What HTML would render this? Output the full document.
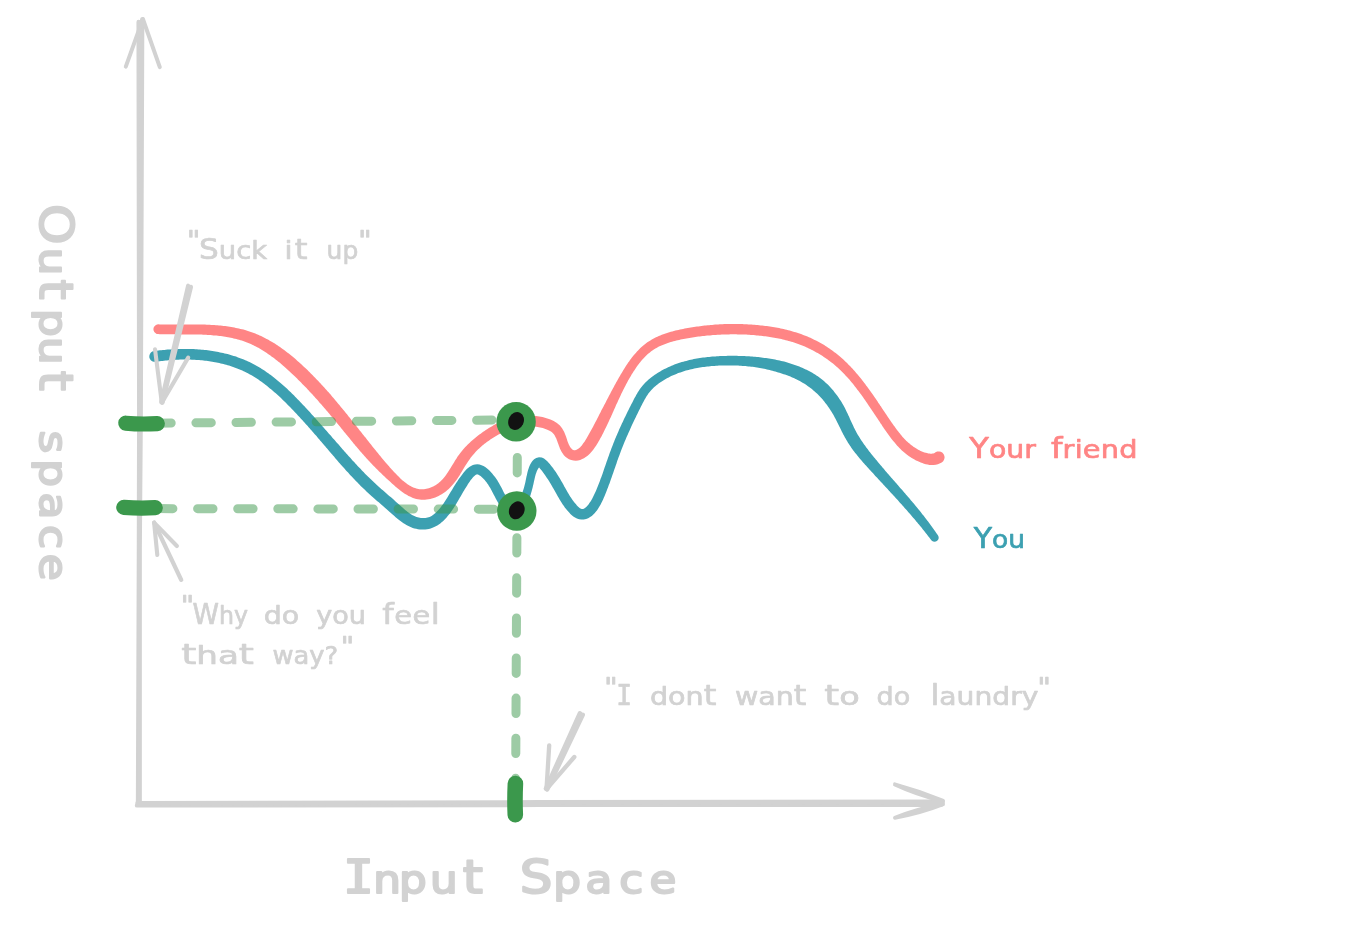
<!DOCTYPE html>
<html lang="en"><head><meta charset="utf-8"><title>Input Space / Output space</title>
<style>html,body{margin:0;padding:0;background:#fff;overflow:hidden}svg{display:block}</style></head>
<body>
<svg width="1364" height="933" viewBox="0 0 1364 933">
<rect width="1364" height="933" fill="#fff"/>
<g stroke="#d2d2d2" fill="none" stroke-linecap="round" stroke-linejoin="round">
<path d="M138.6 22 L139.2 420 L138.9 550 L138 803" stroke-width="4.3"/>
<path d="M142.2 19.5 L140.7 420 L139.7 550 L139.7 803" stroke-width="4.3"/>
<path d="M142.9 19 L125.8 66.6 M142.9 19 L159.8 67.2" stroke-width="4"/>
<path d="M137 805.4 L540 804.9 L941 804.8" stroke-width="4.4"/>
<path d="M137.5 803.2 L540 802.3 L942.5 801.8" stroke-width="4.4"/>
<path d="M894.8 784.1 Q919 790.6 943.2 800.7 M894.8 784.7 Q916 794.6 943.2 801.6 M894.8 818 Q921 813.2 943.2 804.4 M894.8 817.5 Q917 808.6 943.2 803.6" stroke-width="3.5"/>
</g>
<path d="M155.4 361.8 L156.9 361.6 L158.3 361.4 L159.7 361.2 L161.1 361.0 L162.6 360.9 L164.0 360.7 L165.5 360.6 L166.9 360.4 L168.4 360.3 L169.8 360.2 L171.3 360.1 L172.7 360.0 L174.2 359.9 L175.6 359.8 L177.1 359.7 L178.6 359.7 L180.0 359.6 L181.5 359.6 L183.0 359.6 L184.5 359.5 L185.9 359.5 L187.4 359.6 L188.9 359.6 L190.3 359.6 L191.8 359.7 L193.3 359.7 L194.7 359.8 L196.2 359.9 L197.7 360.0 L199.1 360.1 L200.6 360.2 L202.0 360.3 L203.5 360.5 L205.0 360.7 L206.4 360.8 L207.9 361.0 L209.3 361.2 L210.7 361.4 L212.2 361.7 L213.6 361.9 L215.0 362.2 L216.5 362.5 L217.9 362.8 L219.3 363.1 L220.7 363.4 L222.1 363.7 L223.5 364.1 L224.9 364.4 L226.3 364.8 L227.6 365.2 L229.0 365.6 L230.4 366.0 L231.7 366.5 L233.1 366.9 L234.4 367.4 L235.8 367.9 L237.1 368.4 L238.4 368.9 L239.7 369.5 L241.0 370.0 L242.3 370.6 L243.6 371.2 L244.9 371.8 L246.2 372.4 L247.4 373.1 L248.7 373.7 L249.9 374.4 L251.1 375.1 L252.4 375.8 L253.6 376.5 L254.8 377.3 L256.0 378.0 L257.2 378.8 L258.4 379.6 L259.6 380.4 L260.7 381.3 L261.9 382.1 L263.1 383.0 L264.2 383.8 L265.4 384.7 L266.5 385.6 L267.7 386.5 L268.8 387.4 L269.9 388.4 L271.1 389.3 L272.2 390.2 L273.3 391.2 L274.4 392.2 L275.5 393.1 L276.6 394.1 L277.7 395.1 L278.8 396.1 L279.9 397.1 L281.0 398.1 L282.1 399.2 L283.1 400.2 L284.2 401.2 L285.3 402.3 L286.3 403.3 L287.4 404.4 L288.4 405.5 L289.5 406.5 L290.5 407.6 L291.6 408.7 L292.6 409.7 L293.6 410.8 L294.7 411.9 L295.7 413.0 L296.7 414.1 L297.7 415.2 L298.7 416.2 L299.7 417.3 L300.7 418.4 L301.7 419.5 L302.7 420.6 L303.7 421.7 L304.7 422.8 L305.7 423.9 L306.7 425.0 L307.7 426.1 L308.6 427.2 L309.6 428.3 L310.6 429.4 L311.6 430.6 L312.6 431.7 L313.5 432.8 L314.5 433.9 L315.5 435.0 L316.5 436.1 L317.4 437.3 L318.4 438.4 L319.4 439.5 L320.3 440.7 L321.3 441.8 L322.3 442.9 L323.2 444.1 L324.2 445.2 L325.2 446.3 L326.1 447.5 L327.1 448.6 L328.1 449.7 L329.1 450.9 L330.0 452.0 L331.0 453.2 L332.0 454.3 L333.0 455.5 L334.0 456.6 L334.9 457.8 L335.9 458.9 L336.9 460.1 L337.9 461.2 L338.9 462.4 L339.9 463.5 L340.9 464.7 L341.9 465.8 L343.0 466.9 L344.0 468.1 L345.0 469.2 L346.0 470.4 L347.0 471.5 L348.1 472.6 L349.1 473.8 L350.1 474.9 L351.2 476.0 L352.2 477.1 L353.3 478.2 L354.3 479.3 L355.4 480.4 L356.4 481.5 L357.5 482.6 L358.6 483.7 L359.6 484.8 L360.7 485.9 L361.8 487.0 L362.9 488.0 L364.0 489.1 L365.1 490.1 L366.2 491.2 L367.3 492.2 L368.4 493.2 L369.5 494.2 L370.6 495.2 L371.7 496.2 L372.9 497.2 L374.0 498.2 L375.1 499.2 L376.2 500.2 L377.3 501.2 L378.5 502.1 L379.6 503.1 L380.7 504.1 L381.8 505.1 L383.0 506.0 L384.1 507.0 L385.2 508.0 L386.4 509.0 L387.5 510.0 L388.6 511.0 L389.7 512.0 L390.9 513.0 L392.0 514.0 L393.2 515.1 L394.4 516.1 L395.6 517.2 L396.9 518.2 L398.1 519.3 L399.4 520.3 L400.8 521.3 L402.1 522.3 L403.5 523.2 L404.9 524.1 L406.4 525.0 L407.9 525.8 L409.5 526.6 L411.1 527.2 L412.7 527.9 L414.4 528.4 L416.2 528.8 L417.9 529.2 L419.8 529.4 L421.6 529.5 L423.4 529.5 L425.3 529.5 L427.1 529.2 L428.9 528.9 L430.7 528.4 L432.5 527.8 L434.2 527.1 L435.8 526.3 L437.3 525.4 L438.8 524.5 L440.3 523.4 L441.6 522.3 L443.0 521.2 L444.2 519.9 L445.4 518.7 L446.6 517.4 L447.7 516.1 L448.8 514.8 L449.9 513.4 L450.9 512.1 L451.8 510.7 L452.8 509.3 L453.7 507.9 L454.6 506.6 L455.4 505.2 L456.2 503.9 L457.0 502.6 L457.8 501.3 L458.5 500.0 L459.2 498.8 L459.9 497.6 L460.6 496.4 L461.3 495.2 L462.0 494.0 L462.7 492.8 L463.4 491.6 L464.1 490.4 L464.9 489.1 L465.6 487.9 L466.4 486.7 L467.2 485.4 L468.0 484.1 L468.9 482.7 L469.8 481.4 L470.7 480.1 L471.7 478.9 L472.6 477.8 L473.5 476.8 L474.4 475.9 L475.2 475.3 L475.9 474.8 L476.4 474.5 L476.8 474.4 L477.1 474.3 L477.5 474.4 L478.0 474.6 L478.8 474.9 L479.7 475.4 L480.6 476.1 L481.6 477.0 L482.7 478.0 L483.7 479.0 L484.7 480.1 L485.6 481.2 L486.5 482.3 L487.3 483.4 L488.1 484.6 L488.8 485.7 L489.6 486.9 L490.3 488.0 L490.9 489.2 L491.6 490.4 L492.2 491.7 L492.9 492.9 L493.5 494.2 L494.2 495.5 L494.9 496.8 L495.6 498.2 L496.3 499.6 L497.1 501.0 L498.0 502.4 L498.9 503.9 L499.8 505.4 L500.9 506.9 L502.1 508.4 L503.4 509.8 L504.8 511.2 L506.3 512.5 L508.1 513.6 L509.9 514.5 L512.0 515.2 L514.3 515.6 L516.8 515.4 L519.2 514.6 L521.1 513.3 L522.7 511.8 L523.9 510.2 L524.9 508.5 L525.8 506.9 L526.6 505.3 L527.3 503.7 L527.9 502.1 L528.6 500.6 L529.1 499.1 L529.7 497.6 L530.2 496.1 L530.7 494.6 L531.1 493.1 L531.5 491.7 L531.9 490.2 L532.3 488.7 L532.7 487.2 L533.0 485.8 L533.4 484.3 L533.7 482.8 L534.0 481.3 L534.4 479.8 L534.7 478.3 L535.0 476.9 L535.4 475.4 L535.8 474.0 L536.3 472.7 L536.8 471.3 L537.4 470.1 L538.1 468.8 L538.8 467.8 L539.4 467.1 L539.8 466.8 L539.8 466.9 L539.3 467.1 L538.8 467.1 L538.8 467.2 L539.2 467.6 L539.9 468.4 L540.8 469.4 L541.7 470.6 L542.6 471.8 L543.5 473.0 L544.4 474.3 L545.3 475.5 L546.1 476.7 L546.9 477.9 L547.7 479.1 L548.5 480.3 L549.3 481.6 L550.0 482.8 L550.8 484.0 L551.5 485.3 L552.2 486.5 L552.9 487.7 L553.7 489.0 L554.4 490.3 L555.1 491.5 L555.8 492.8 L556.5 494.1 L557.3 495.4 L558.0 496.7 L558.8 498.1 L559.6 499.4 L560.4 500.7 L561.2 502.1 L562.1 503.4 L562.9 504.7 L563.9 506.1 L564.8 507.4 L565.9 508.7 L566.9 510.0 L568.0 511.3 L569.2 512.6 L570.4 513.9 L571.8 515.2 L573.3 516.4 L575.0 517.6 L576.9 518.5 L579.1 519.3 L581.4 519.6 L583.8 519.5 L586.1 519.0 L588.2 518.2 L590.1 517.1 L591.8 515.9 L593.3 514.6 L594.6 513.2 L595.8 511.8 L596.9 510.4 L597.9 509.0 L598.8 507.6 L599.7 506.1 L600.5 504.7 L601.2 503.3 L602.0 501.8 L602.6 500.4 L603.3 499.0 L603.9 497.6 L604.5 496.2 L605.1 494.8 L605.7 493.3 L606.2 491.9 L606.8 490.5 L607.3 489.1 L607.9 487.7 L608.4 486.2 L608.9 484.8 L609.5 483.4 L610.0 482.0 L610.5 480.5 L611.0 479.1 L611.5 477.7 L612.0 476.2 L612.5 474.8 L613.0 473.4 L613.5 472.0 L614.0 470.5 L614.5 469.1 L615.0 467.7 L615.5 466.3 L616.0 464.8 L616.5 463.4 L616.9 462.0 L617.4 460.6 L617.9 459.2 L618.4 457.8 L618.9 456.4 L619.5 455.0 L620.0 453.6 L620.5 452.2 L621.0 450.8 L621.5 449.4 L622.1 448.1 L622.6 446.7 L623.2 445.3 L623.7 444.0 L624.3 442.6 L624.8 441.2 L625.4 439.9 L626.0 438.5 L626.6 437.1 L627.2 435.8 L627.8 434.4 L628.4 433.1 L629.0 431.7 L629.6 430.4 L630.2 429.0 L630.8 427.7 L631.4 426.3 L632.0 425.0 L632.7 423.6 L633.3 422.3 L633.9 421.0 L634.6 419.6 L635.2 418.3 L635.9 416.9 L636.5 415.6 L637.2 414.3 L637.8 412.9 L638.5 411.6 L639.1 410.2 L639.8 408.9 L640.5 407.5 L641.1 406.2 L641.8 404.9 L642.5 403.6 L643.2 402.3 L643.9 401.0 L644.5 399.7 L645.3 398.5 L646.0 397.3 L646.7 396.1 L647.5 395.0 L648.2 393.8 L649.0 392.8 L649.9 391.7 L650.7 390.7 L651.6 389.7 L652.6 388.7 L653.5 387.8 L654.6 386.8 L655.6 385.9 L656.7 385.0 L657.8 384.2 L658.9 383.3 L660.1 382.5 L661.3 381.7 L662.5 380.9 L663.7 380.2 L664.9 379.4 L666.1 378.7 L667.4 378.0 L668.7 377.4 L669.9 376.7 L671.2 376.1 L672.5 375.5 L673.8 374.9 L675.1 374.4 L676.4 373.9 L677.7 373.3 L679.1 372.8 L680.4 372.4 L681.8 371.9 L683.1 371.5 L684.5 371.0 L685.9 370.6 L687.2 370.3 L688.6 369.9 L690.0 369.5 L691.4 369.2 L692.8 368.9 L694.2 368.6 L695.7 368.3 L697.1 368.0 L698.5 367.8 L699.9 367.5 L701.4 367.3 L702.8 367.1 L704.3 366.9 L705.7 366.7 L707.2 366.6 L708.6 366.4 L710.1 366.3 L711.5 366.1 L713.0 366.0 L714.5 365.9 L716.0 365.8 L717.4 365.7 L718.9 365.6 L720.4 365.6 L721.9 365.5 L723.3 365.5 L724.8 365.5 L726.3 365.4 L727.8 365.4 L729.3 365.4 L730.7 365.4 L732.2 365.5 L733.7 365.5 L735.1 365.5 L736.6 365.6 L738.1 365.6 L739.5 365.7 L741.0 365.8 L742.5 365.9 L743.9 366.0 L745.4 366.1 L746.8 366.2 L748.3 366.4 L749.7 366.5 L751.2 366.7 L752.6 366.8 L754.1 367.0 L755.5 367.2 L757.0 367.5 L758.4 367.7 L759.8 367.9 L761.2 368.2 L762.7 368.5 L764.1 368.8 L765.5 369.1 L766.9 369.4 L768.3 369.7 L769.7 370.1 L771.1 370.5 L772.5 370.8 L773.9 371.2 L775.3 371.6 L776.7 372.0 L778.1 372.4 L779.5 372.8 L780.9 373.3 L782.3 373.7 L783.6 374.2 L785.0 374.6 L786.3 375.1 L787.7 375.6 L789.0 376.1 L790.4 376.6 L791.7 377.2 L793.0 377.7 L794.3 378.3 L795.6 378.9 L796.8 379.5 L798.1 380.2 L799.3 380.8 L800.6 381.5 L801.8 382.2 L803.0 382.9 L804.1 383.6 L805.3 384.3 L806.4 385.1 L807.6 385.9 L808.7 386.7 L809.8 387.5 L810.8 388.3 L811.9 389.1 L812.9 390.0 L814.0 390.9 L815.0 391.8 L816.0 392.7 L817.0 393.6 L818.0 394.6 L818.9 395.6 L819.9 396.6 L820.8 397.6 L821.8 398.6 L822.7 399.6 L823.6 400.7 L824.5 401.8 L825.3 402.9 L826.2 404.0 L827.0 405.1 L827.8 406.2 L828.7 407.4 L829.4 408.5 L830.2 409.7 L831.0 410.9 L831.7 412.1 L832.4 413.3 L833.2 414.5 L833.9 415.8 L834.5 417.0 L835.2 418.3 L835.9 419.6 L836.6 420.9 L837.2 422.2 L837.9 423.5 L838.6 424.9 L839.2 426.2 L839.9 427.6 L840.6 428.9 L841.2 430.3 L841.9 431.7 L842.6 433.1 L843.3 434.4 L844.1 435.8 L844.8 437.2 L845.6 438.6 L846.4 440.0 L847.2 441.3 L848.0 442.7 L848.9 444.0 L849.7 445.3 L850.6 446.6 L851.5 447.9 L852.4 449.2 L853.3 450.4 L854.3 451.7 L855.2 452.9 L856.2 454.1 L857.1 455.3 L858.1 456.5 L859.1 457.7 L860.1 458.9 L861.1 460.1 L862.1 461.2 L863.1 462.4 L864.1 463.5 L865.1 464.7 L866.2 465.8 L867.2 466.9 L868.2 468.0 L869.2 469.2 L870.2 470.3 L871.3 471.4 L872.3 472.5 L873.3 473.6 L874.3 474.7 L875.3 475.9 L876.4 477.0 L877.4 478.1 L878.4 479.2 L879.4 480.3 L880.5 481.4 L881.5 482.5 L882.5 483.6 L883.5 484.7 L884.5 485.8 L885.6 486.9 L886.6 488.0 L887.6 489.1 L888.6 490.2 L889.6 491.3 L890.6 492.4 L891.6 493.5 L892.6 494.6 L893.7 495.7 L894.7 496.8 L895.7 497.9 L896.7 499.0 L897.7 500.1 L898.7 501.3 L899.7 502.4 L900.7 503.5 L901.7 504.6 L902.7 505.7 L903.7 506.8 L904.6 507.9 L905.6 509.0 L906.6 510.1 L907.6 511.3 L908.6 512.4 L909.6 513.5 L910.5 514.6 L911.5 515.7 L912.5 516.9 L913.4 518.0 L914.4 519.1 L915.4 520.2 L916.3 521.4 L917.3 522.5 L918.2 523.7 L919.2 524.8 L920.1 525.9 L921.1 527.1 L922.0 528.3 L922.9 529.4 L923.8 530.6 L924.8 531.7 L925.7 532.9 L926.6 534.1 L927.5 535.2 L928.4 536.4 L929.3 537.6 L930.2 538.8 L931.1 540.0 L931.1 540.1 L932.1 541.0 L933.2 541.6 L934.5 541.8 L935.8 541.6 L936.9 541.1 L937.9 540.1 L938.5 539.0 L938.7 537.7 L938.5 536.4 L937.9 535.3 L937.9 535.2 L937.0 533.9 L936.1 532.7 L935.3 531.4 L934.4 530.2 L933.5 528.9 L932.6 527.7 L931.7 526.5 L930.8 525.2 L929.9 524.0 L929.0 522.8 L928.1 521.6 L927.2 520.4 L926.3 519.2 L925.3 518.0 L924.4 516.8 L923.5 515.6 L922.5 514.4 L921.6 513.2 L920.7 512.0 L919.7 510.8 L918.8 509.7 L917.8 508.5 L916.8 507.3 L915.9 506.2 L914.9 505.0 L914.0 503.8 L913.0 502.7 L912.0 501.5 L911.0 500.4 L910.1 499.2 L909.1 498.1 L908.1 496.9 L907.1 495.8 L906.1 494.7 L905.2 493.5 L904.2 492.4 L903.2 491.2 L902.2 490.1 L901.2 489.0 L900.2 487.9 L899.2 486.7 L898.2 485.6 L897.3 484.5 L896.3 483.3 L895.3 482.2 L894.3 481.1 L893.3 479.9 L892.3 478.8 L891.3 477.7 L890.3 476.6 L889.4 475.4 L888.4 474.3 L887.4 473.2 L886.4 472.0 L885.4 470.9 L884.5 469.8 L883.5 468.6 L882.5 467.5 L881.6 466.3 L880.6 465.2 L879.6 464.1 L878.7 462.9 L877.7 461.8 L876.8 460.6 L875.8 459.5 L874.9 458.3 L873.9 457.2 L873.0 456.0 L872.1 454.9 L871.1 453.7 L870.2 452.5 L869.3 451.4 L868.4 450.2 L867.6 449.1 L866.7 447.9 L865.8 446.7 L865.0 445.6 L864.1 444.4 L863.3 443.2 L862.5 442.1 L861.7 440.9 L860.9 439.7 L860.1 438.5 L859.4 437.3 L858.6 436.1 L857.9 434.9 L857.2 433.7 L856.5 432.5 L855.9 431.2 L855.2 430.0 L854.6 428.7 L853.9 427.4 L853.3 426.1 L852.7 424.8 L852.1 423.5 L851.4 422.1 L850.8 420.7 L850.2 419.4 L849.6 418.0 L849.0 416.6 L848.3 415.2 L847.7 413.8 L847.0 412.4 L846.3 411.0 L845.6 409.5 L844.9 408.1 L844.2 406.7 L843.4 405.3 L842.6 403.9 L841.8 402.5 L840.9 401.1 L840.0 399.8 L839.1 398.4 L838.2 397.1 L837.3 395.8 L836.3 394.5 L835.3 393.2 L834.3 391.9 L833.3 390.6 L832.3 389.4 L831.2 388.2 L830.1 387.0 L829.0 385.8 L827.8 384.6 L826.6 383.5 L825.4 382.4 L824.2 381.3 L823.0 380.3 L821.7 379.2 L820.4 378.2 L819.1 377.2 L817.8 376.3 L816.4 375.4 L815.1 374.5 L813.7 373.7 L812.3 372.8 L810.9 372.1 L809.5 371.3 L808.0 370.6 L806.6 369.8 L805.1 369.2 L803.7 368.5 L802.2 367.8 L800.8 367.2 L799.3 366.6 L797.8 366.0 L796.3 365.5 L794.8 364.9 L793.3 364.4 L791.8 363.9 L790.3 363.4 L788.8 362.9 L787.3 362.5 L785.8 362.1 L784.2 361.6 L782.7 361.3 L781.2 360.9 L779.7 360.5 L778.2 360.2 L776.6 359.9 L775.1 359.6 L773.6 359.3 L772.1 359.0 L770.5 358.7 L769.0 358.5 L767.5 358.3 L766.0 358.1 L764.4 357.9 L762.9 357.7 L761.4 357.5 L759.8 357.3 L758.3 357.1 L756.8 357.0 L755.2 356.8 L753.7 356.7 L752.2 356.6 L750.7 356.5 L749.1 356.3 L747.6 356.2 L746.1 356.2 L744.5 356.1 L743.0 356.0 L741.5 355.9 L739.9 355.9 L738.4 355.9 L736.9 355.8 L735.3 355.8 L733.8 355.8 L732.3 355.8 L730.7 355.8 L729.2 355.8 L727.7 355.8 L726.1 355.9 L724.6 355.9 L723.1 356.0 L721.5 356.0 L720.0 356.1 L718.4 356.2 L716.9 356.3 L715.3 356.4 L713.8 356.5 L712.3 356.6 L710.7 356.7 L709.2 356.9 L707.6 357.0 L706.1 357.2 L704.6 357.4 L703.0 357.6 L701.5 357.8 L699.9 358.0 L698.4 358.3 L696.9 358.5 L695.4 358.8 L693.8 359.1 L692.3 359.4 L690.8 359.8 L689.3 360.1 L687.8 360.5 L686.3 360.9 L684.8 361.3 L683.3 361.7 L681.8 362.1 L680.3 362.6 L678.8 363.1 L677.3 363.6 L675.9 364.1 L674.4 364.6 L673.0 365.2 L671.5 365.8 L670.1 366.4 L668.6 367.1 L667.2 367.7 L665.8 368.4 L664.4 369.1 L663.0 369.8 L661.6 370.6 L660.2 371.4 L658.8 372.2 L657.5 373.0 L656.1 373.9 L654.8 374.8 L653.5 375.7 L652.1 376.7 L650.8 377.7 L649.6 378.7 L648.3 379.8 L647.1 380.9 L645.9 382.0 L644.7 383.2 L643.6 384.4 L642.5 385.7 L641.5 387.0 L640.5 388.3 L639.6 389.6 L638.7 390.9 L637.8 392.3 L637.0 393.7 L636.2 395.0 L635.5 396.4 L634.7 397.8 L634.0 399.1 L633.3 400.5 L632.6 401.9 L631.9 403.2 L631.2 404.6 L630.5 405.9 L629.8 407.3 L629.2 408.6 L628.5 410.0 L627.8 411.3 L627.1 412.7 L626.5 414.0 L625.8 415.4 L625.2 416.8 L624.5 418.1 L623.8 419.5 L623.2 420.9 L622.6 422.2 L621.9 423.6 L621.3 425.0 L620.7 426.3 L620.0 427.7 L619.4 429.1 L618.8 430.5 L618.2 431.9 L617.6 433.3 L617.0 434.7 L616.4 436.0 L615.8 437.4 L615.2 438.8 L614.6 440.3 L614.1 441.7 L613.5 443.1 L613.0 444.5 L612.4 445.9 L611.9 447.3 L611.3 448.8 L610.8 450.2 L610.3 451.6 L609.7 453.0 L609.2 454.5 L608.7 455.9 L608.2 457.3 L607.7 458.8 L607.2 460.2 L606.7 461.6 L606.2 463.1 L605.7 464.5 L605.2 465.9 L604.7 467.3 L604.2 468.8 L603.7 470.2 L603.3 471.6 L602.8 473.0 L602.3 474.4 L601.8 475.8 L601.3 477.2 L600.7 478.6 L600.2 480.0 L599.7 481.4 L599.2 482.8 L598.7 484.1 L598.1 485.5 L597.6 486.8 L597.0 488.2 L596.5 489.5 L595.9 490.9 L595.3 492.2 L594.7 493.5 L594.1 494.8 L593.5 496.1 L592.9 497.3 L592.3 498.5 L591.6 499.7 L590.9 500.9 L590.2 502.0 L589.4 503.1 L588.7 504.2 L587.8 505.2 L587.0 506.2 L586.2 507.0 L585.3 507.7 L584.6 508.2 L583.8 508.7 L583.0 508.9 L582.4 509.1 L582.0 509.1 L581.6 509.0 L581.1 508.8 L580.4 508.5 L579.6 507.9 L578.8 507.2 L577.9 506.4 L576.9 505.4 L576.0 504.3 L575.1 503.3 L574.2 502.2 L573.3 501.1 L572.5 499.9 L571.7 498.8 L570.9 497.6 L570.1 496.4 L569.4 495.2 L568.7 494.0 L567.9 492.7 L567.2 491.5 L566.5 490.2 L565.8 488.9 L565.1 487.7 L564.3 486.4 L563.6 485.1 L562.9 483.8 L562.2 482.5 L561.4 481.2 L560.7 479.9 L559.9 478.6 L559.1 477.3 L558.3 476.0 L557.5 474.7 L556.6 473.3 L555.8 472.0 L554.9 470.7 L553.9 469.4 L553.0 468.0 L551.9 466.7 L550.9 465.4 L549.8 464.0 L548.6 462.7 L547.3 461.3 L545.8 459.9 L544.0 458.6 L541.8 457.6 L539.0 457.3 L536.2 458.0 L534.1 459.3 L532.4 461.0 L531.2 462.8 L530.2 464.6 L529.3 466.4 L528.7 468.2 L528.1 470.0 L527.6 471.7 L527.2 473.4 L526.9 475.0 L526.5 476.6 L526.2 478.1 L525.9 479.6 L525.6 481.0 L525.3 482.4 L525.0 483.8 L524.6 485.2 L524.3 486.6 L523.9 487.9 L523.5 489.3 L523.1 490.6 L522.6 491.9 L522.1 493.3 L521.6 494.6 L521.1 495.9 L520.5 497.2 L519.8 498.5 L519.2 499.8 L518.5 501.2 L517.7 502.4 L517.0 503.6 L516.3 504.6 L515.6 505.3 L515.2 505.7 L514.9 505.8 L514.9 505.8 L514.9 505.8 L514.5 505.7 L513.9 505.4 L513.1 505.0 L512.3 504.4 L511.4 503.7 L510.6 502.9 L509.7 501.9 L508.9 500.9 L508.1 499.8 L507.3 498.6 L506.5 497.3 L505.8 496.0 L505.1 494.8 L504.4 493.5 L503.7 492.2 L503.1 490.9 L502.4 489.6 L501.8 488.3 L501.1 487.0 L500.4 485.7 L499.7 484.4 L498.9 483.0 L498.1 481.7 L497.3 480.3 L496.4 479.0 L495.4 477.6 L494.4 476.2 L493.3 474.9 L492.2 473.5 L491.0 472.2 L489.7 470.8 L488.3 469.5 L486.8 468.3 L485.2 467.1 L483.5 466.1 L481.6 465.2 L479.5 464.6 L477.3 464.3 L475.0 464.5 L472.9 465.1 L471.0 466.0 L469.3 467.1 L467.7 468.3 L466.3 469.6 L465.0 471.0 L463.7 472.5 L462.6 473.9 L461.5 475.4 L460.4 476.9 L459.4 478.3 L458.5 479.6 L457.6 481.0 L456.7 482.3 L455.9 483.5 L455.1 484.8 L454.3 486.0 L453.5 487.3 L452.8 488.5 L452.1 489.7 L451.3 490.9 L450.6 492.1 L449.9 493.3 L449.1 494.5 L448.4 495.7 L447.7 496.9 L446.9 498.2 L446.1 499.4 L445.3 500.7 L444.5 501.9 L443.7 503.2 L442.8 504.4 L442.0 505.6 L441.1 506.8 L440.2 507.9 L439.3 509.0 L438.4 510.1 L437.4 511.1 L436.5 512.0 L435.5 512.9 L434.5 513.8 L433.6 514.5 L432.6 515.2 L431.6 515.9 L430.6 516.4 L429.6 516.9 L428.6 517.2 L427.6 517.6 L426.5 517.8 L425.5 518.0 L424.4 518.1 L423.2 518.1 L422.1 518.1 L420.9 518.0 L419.8 517.8 L418.7 517.6 L417.6 517.3 L416.5 517.0 L415.4 516.5 L414.3 516.1 L413.2 515.5 L412.1 514.9 L411.0 514.3 L409.9 513.5 L408.8 512.8 L407.7 512.0 L406.6 511.1 L405.5 510.2 L404.4 509.3 L403.3 508.3 L402.2 507.3 L401.0 506.3 L399.9 505.3 L398.8 504.3 L397.6 503.2 L396.4 502.2 L395.3 501.2 L394.1 500.1 L393.0 499.1 L391.9 498.1 L390.7 497.1 L389.6 496.2 L388.4 495.2 L387.3 494.2 L386.2 493.2 L385.1 492.3 L384.0 491.3 L382.9 490.3 L381.8 489.4 L380.7 488.4 L379.6 487.4 L378.5 486.5 L377.4 485.5 L376.3 484.5 L375.3 483.5 L374.2 482.5 L373.2 481.6 L372.1 480.6 L371.1 479.6 L370.0 478.5 L369.0 477.5 L367.9 476.5 L366.9 475.5 L365.8 474.4 L364.8 473.4 L363.8 472.3 L362.7 471.3 L361.7 470.2 L360.7 469.1 L359.7 468.0 L358.6 467.0 L357.6 465.9 L356.6 464.8 L355.6 463.7 L354.6 462.6 L353.6 461.5 L352.5 460.4 L351.5 459.3 L350.5 458.1 L349.5 457.0 L348.5 455.9 L347.5 454.8 L346.5 453.7 L345.5 452.5 L344.5 451.4 L343.5 450.3 L342.5 449.2 L341.5 448.0 L340.6 446.9 L339.6 445.8 L338.6 444.6 L337.6 443.5 L336.6 442.4 L335.6 441.3 L334.6 440.1 L333.6 439.0 L332.6 437.9 L331.7 436.8 L330.7 435.6 L329.7 434.5 L328.7 433.4 L327.7 432.3 L326.7 431.1 L325.7 430.0 L324.8 428.9 L323.8 427.8 L322.8 426.7 L321.8 425.5 L320.8 424.4 L319.8 423.3 L318.8 422.2 L317.8 421.1 L316.8 419.9 L315.8 418.8 L314.8 417.7 L313.8 416.6 L312.8 415.5 L311.8 414.4 L310.8 413.3 L309.8 412.1 L308.8 411.0 L307.8 409.9 L306.7 408.8 L305.7 407.7 L304.7 406.6 L303.6 405.5 L302.6 404.4 L301.5 403.3 L300.5 402.2 L299.4 401.1 L298.4 400.0 L297.3 398.9 L296.2 397.8 L295.1 396.7 L294.1 395.6 L293.0 394.5 L291.9 393.4 L290.8 392.3 L289.6 391.3 L288.5 390.2 L287.4 389.1 L286.3 388.1 L285.1 387.0 L284.0 386.0 L282.8 384.9 L281.7 383.9 L280.5 382.9 L279.3 381.9 L278.1 380.9 L276.9 379.9 L275.7 378.9 L274.5 377.9 L273.3 377.0 L272.0 376.0 L270.8 375.1 L269.5 374.2 L268.3 373.3 L267.0 372.4 L265.7 371.5 L264.4 370.6 L263.1 369.8 L261.8 368.9 L260.5 368.1 L259.1 367.3 L257.8 366.5 L256.4 365.7 L255.1 365.0 L253.7 364.2 L252.3 363.5 L250.9 362.8 L249.5 362.1 L248.1 361.5 L246.7 360.8 L245.3 360.2 L243.8 359.6 L242.4 359.0 L240.9 358.4 L239.5 357.9 L238.0 357.4 L236.6 356.8 L235.1 356.3 L233.6 355.9 L232.1 355.4 L230.6 355.0 L229.1 354.5 L227.6 354.1 L226.1 353.8 L224.6 353.4 L223.1 353.0 L221.6 352.7 L220.0 352.4 L218.5 352.1 L217.0 351.8 L215.4 351.5 L213.9 351.2 L212.4 351.0 L210.8 350.7 L209.3 350.5 L207.7 350.3 L206.2 350.1 L204.6 350.0 L203.1 349.8 L201.5 349.7 L200.0 349.5 L198.4 349.4 L196.9 349.3 L195.3 349.2 L193.8 349.1 L192.2 349.1 L190.6 349.0 L189.1 349.0 L187.5 348.9 L186.0 348.9 L184.4 348.9 L182.9 348.9 L181.3 348.9 L179.8 349.0 L178.2 349.0 L176.7 349.1 L175.1 349.1 L173.6 349.2 L172.1 349.3 L170.5 349.4 L169.0 349.5 L167.5 349.6 L165.9 349.7 L164.4 349.9 L162.9 350.0 L161.4 350.2 L159.9 350.3 L158.4 350.5 L156.9 350.7 L155.4 350.9 L153.9 351.1 L152.3 351.6 L150.9 352.6 L149.9 353.9 L149.4 355.5 L149.3 357.2 L149.8 358.8 L150.8 360.2 L152.1 361.2 L153.7 361.8Z" fill="#3ca0b1"/>
<path d="M158.2 334.1 L159.7 334.2 L161.1 334.2 L162.6 334.2 L164.1 334.3 L165.6 334.3 L167.0 334.3 L168.5 334.3 L170.0 334.3 L171.5 334.3 L173.0 334.3 L174.5 334.3 L176.0 334.4 L177.5 334.4 L179.0 334.4 L180.5 334.4 L182.0 334.4 L183.5 334.4 L185.0 334.4 L186.6 334.4 L188.1 334.4 L189.6 334.4 L191.1 334.4 L192.6 334.4 L194.1 334.4 L195.6 334.5 L197.1 334.5 L198.6 334.5 L200.1 334.6 L201.6 334.6 L203.1 334.7 L204.6 334.8 L206.1 334.8 L207.6 334.9 L209.1 335.0 L210.6 335.1 L212.1 335.2 L213.5 335.4 L215.0 335.5 L216.5 335.6 L217.9 335.8 L219.4 336.0 L220.8 336.1 L222.3 336.3 L223.7 336.6 L225.2 336.8 L226.6 337.0 L228.0 337.3 L229.4 337.5 L230.8 337.8 L232.2 338.1 L233.6 338.4 L235.0 338.7 L236.4 339.1 L237.7 339.4 L239.1 339.8 L240.5 340.2 L241.8 340.6 L243.1 341.1 L244.4 341.5 L245.7 342.0 L247.0 342.5 L248.3 343.0 L249.6 343.5 L250.9 344.1 L252.2 344.7 L253.4 345.2 L254.7 345.9 L255.9 346.5 L257.1 347.2 L258.4 347.8 L259.6 348.5 L260.8 349.3 L262.0 350.0 L263.2 350.7 L264.4 351.5 L265.6 352.3 L266.8 353.1 L268.0 353.9 L269.2 354.7 L270.4 355.5 L271.5 356.4 L272.7 357.2 L273.9 358.1 L275.0 359.0 L276.2 359.9 L277.3 360.8 L278.4 361.7 L279.6 362.6 L280.7 363.6 L281.8 364.5 L282.9 365.5 L284.1 366.5 L285.2 367.4 L286.3 368.4 L287.4 369.4 L288.5 370.4 L289.6 371.4 L290.6 372.4 L291.7 373.5 L292.8 374.5 L293.9 375.5 L295.0 376.5 L296.0 377.6 L297.1 378.6 L298.1 379.7 L299.2 380.7 L300.3 381.8 L301.3 382.8 L302.3 383.9 L303.4 384.9 L304.4 386.0 L305.4 387.1 L306.5 388.1 L307.5 389.2 L308.5 390.3 L309.5 391.4 L310.5 392.5 L311.5 393.5 L312.5 394.6 L313.5 395.7 L314.5 396.8 L315.5 397.9 L316.5 399.0 L317.5 400.1 L318.5 401.3 L319.4 402.4 L320.4 403.5 L321.4 404.6 L322.4 405.7 L323.3 406.8 L324.3 407.9 L325.3 409.1 L326.2 410.2 L327.2 411.3 L328.2 412.5 L329.1 413.6 L330.1 414.7 L331.0 415.9 L332.0 417.0 L332.9 418.1 L333.9 419.3 L334.8 420.4 L335.8 421.6 L336.7 422.7 L337.6 423.8 L338.6 425.0 L339.5 426.1 L340.5 427.3 L341.4 428.4 L342.3 429.6 L343.3 430.7 L344.2 431.9 L345.2 433.0 L346.1 434.2 L347.0 435.3 L348.0 436.5 L348.9 437.6 L349.9 438.8 L350.8 439.9 L351.7 441.1 L352.7 442.2 L353.6 443.4 L354.6 444.5 L355.5 445.7 L356.5 446.8 L357.5 448.0 L358.4 449.1 L359.4 450.3 L360.4 451.4 L361.4 452.6 L362.4 453.7 L363.4 454.8 L364.4 455.9 L365.4 457.1 L366.4 458.2 L367.4 459.3 L368.5 460.4 L369.5 461.5 L370.6 462.7 L371.6 463.8 L372.7 464.9 L373.7 466.0 L374.8 467.1 L375.9 468.2 L377.0 469.3 L378.0 470.3 L379.1 471.4 L380.3 472.5 L381.4 473.6 L382.5 474.7 L383.6 475.7 L384.8 476.8 L385.9 477.9 L387.1 478.9 L388.2 480.0 L389.4 481.1 L390.5 482.1 L391.7 483.2 L392.9 484.3 L394.1 485.3 L395.3 486.4 L396.6 487.4 L397.8 488.5 L399.1 489.5 L400.3 490.5 L401.6 491.5 L403.0 492.4 L404.3 493.4 L405.7 494.2 L407.1 495.1 L408.5 495.9 L410.0 496.6 L411.5 497.3 L413.0 497.9 L414.6 498.5 L416.2 498.9 L417.9 499.3 L419.6 499.6 L421.3 499.7 L423.1 499.8 L424.9 499.7 L426.6 499.6 L428.4 499.3 L430.2 499.0 L431.9 498.5 L433.6 498.0 L435.3 497.4 L436.9 496.7 L438.6 495.9 L440.2 495.1 L441.7 494.2 L443.2 493.2 L444.7 492.2 L446.1 491.2 L447.4 490.1 L448.7 488.9 L449.9 487.8 L451.1 486.6 L452.2 485.3 L453.3 484.1 L454.3 482.8 L455.3 481.5 L456.3 480.2 L457.2 478.9 L458.1 477.5 L459.0 476.2 L459.8 474.9 L460.6 473.6 L461.4 472.3 L462.2 470.9 L463.0 469.6 L463.8 468.3 L464.5 467.1 L465.3 465.8 L466.1 464.6 L466.8 463.4 L467.6 462.2 L468.4 461.0 L469.2 459.9 L470.0 458.8 L470.8 457.6 L471.7 456.6 L472.5 455.5 L473.4 454.4 L474.3 453.4 L475.3 452.3 L476.2 451.3 L477.2 450.3 L478.2 449.3 L479.2 448.4 L480.2 447.4 L481.3 446.5 L482.3 445.6 L483.4 444.7 L484.5 443.8 L485.7 442.9 L486.8 442.0 L488.0 441.2 L489.2 440.4 L490.3 439.6 L491.6 438.8 L492.8 438.0 L494.0 437.2 L495.2 436.5 L496.5 435.7 L497.7 435.0 L499.0 434.3 L500.2 433.7 L501.5 433.0 L502.8 432.4 L504.1 431.8 L505.4 431.2 L506.7 430.7 L508.0 430.2 L509.3 429.7 L510.6 429.2 L511.9 428.8 L513.2 428.4 L514.5 428.0 L515.8 427.7 L517.2 427.4 L518.5 427.1 L519.8 426.8 L521.2 426.6 L522.5 426.5 L523.9 426.3 L525.2 426.2 L526.6 426.2 L528.0 426.1 L529.3 426.2 L530.7 426.2 L532.0 426.3 L533.4 426.4 L534.8 426.5 L536.1 426.7 L537.4 426.9 L538.8 427.2 L540.1 427.5 L541.5 427.8 L542.8 428.1 L544.1 428.5 L545.4 428.9 L546.7 429.4 L547.9 429.9 L549.0 430.4 L550.0 430.9 L550.9 431.5 L551.7 432.0 L552.5 432.7 L553.2 433.5 L553.9 434.3 L554.6 435.3 L555.2 436.4 L555.7 437.5 L556.3 438.6 L556.8 439.9 L557.3 441.2 L557.7 442.6 L558.3 444.0 L558.8 445.5 L559.4 447.1 L560.0 448.7 L560.8 450.3 L561.7 451.9 L562.7 453.6 L563.9 455.2 L565.4 456.7 L567.1 458.1 L569.0 459.2 L571.2 460.1 L573.5 460.6 L575.8 460.7 L578.1 460.4 L580.2 459.9 L582.2 459.1 L584.0 458.2 L585.7 457.1 L587.3 455.9 L588.7 454.7 L590.0 453.4 L591.3 452.1 L592.4 450.7 L593.4 449.4 L594.4 448.0 L595.3 446.7 L596.2 445.4 L597.1 444.0 L597.9 442.7 L598.7 441.3 L599.5 439.9 L600.2 438.6 L601.0 437.2 L601.7 435.9 L602.4 434.5 L603.1 433.2 L603.8 431.8 L604.4 430.5 L605.1 429.1 L605.8 427.8 L606.4 426.4 L607.1 425.0 L607.7 423.7 L608.4 422.3 L609.0 421.0 L609.6 419.6 L610.2 418.2 L610.9 416.9 L611.5 415.5 L612.1 414.2 L612.7 412.8 L613.3 411.4 L613.9 410.1 L614.5 408.7 L615.1 407.4 L615.7 406.0 L616.3 404.6 L617.0 403.3 L617.6 401.9 L618.2 400.6 L618.8 399.2 L619.4 397.9 L620.1 396.5 L620.7 395.2 L621.3 393.8 L622.0 392.5 L622.6 391.2 L623.3 389.8 L624.0 388.5 L624.6 387.2 L625.3 385.9 L626.0 384.5 L626.7 383.2 L627.4 381.9 L628.1 380.6 L628.9 379.3 L629.6 378.0 L630.4 376.7 L631.1 375.4 L631.9 374.1 L632.7 372.9 L633.5 371.6 L634.3 370.4 L635.1 369.2 L635.9 367.9 L636.7 366.8 L637.6 365.6 L638.4 364.4 L639.3 363.3 L640.2 362.2 L641.1 361.1 L642.0 360.0 L642.9 358.9 L643.9 357.9 L644.8 356.9 L645.8 355.9 L646.8 355.0 L647.8 354.1 L648.8 353.2 L649.9 352.4 L650.9 351.5 L652.0 350.8 L653.1 350.0 L654.2 349.3 L655.4 348.6 L656.5 347.9 L657.7 347.3 L658.9 346.6 L660.2 346.1 L661.4 345.5 L662.7 344.9 L664.0 344.4 L665.3 343.9 L666.6 343.4 L667.9 342.9 L669.3 342.5 L670.7 342.1 L672.0 341.7 L673.4 341.3 L674.9 340.9 L676.3 340.5 L677.7 340.2 L679.1 339.9 L680.6 339.6 L682.0 339.3 L683.5 339.0 L685.0 338.7 L686.4 338.4 L687.9 338.2 L689.4 337.9 L690.9 337.7 L692.4 337.5 L693.9 337.2 L695.3 337.0 L696.8 336.8 L698.3 336.6 L699.8 336.4 L701.2 336.3 L702.7 336.1 L704.2 335.9 L705.6 335.8 L707.1 335.6 L708.6 335.5 L710.0 335.4 L711.5 335.2 L712.9 335.1 L714.4 335.0 L715.9 334.9 L717.3 334.8 L718.8 334.7 L720.2 334.7 L721.7 334.6 L723.1 334.5 L724.6 334.5 L726.0 334.4 L727.5 334.4 L728.9 334.4 L730.4 334.3 L731.9 334.3 L733.3 334.3 L734.8 334.3 L736.2 334.3 L737.7 334.4 L739.1 334.4 L740.6 334.4 L742.0 334.5 L743.5 334.5 L744.9 334.6 L746.4 334.6 L747.9 334.7 L749.3 334.8 L750.8 334.9 L752.2 335.0 L753.7 335.1 L755.2 335.2 L756.6 335.4 L758.1 335.5 L759.6 335.7 L761.0 335.8 L762.5 336.0 L764.0 336.2 L765.4 336.3 L766.9 336.5 L768.4 336.8 L769.8 337.0 L771.3 337.2 L772.7 337.4 L774.2 337.7 L775.6 338.0 L777.1 338.2 L778.5 338.5 L780.0 338.8 L781.4 339.1 L782.8 339.5 L784.2 339.8 L785.7 340.2 L787.1 340.5 L788.5 340.9 L789.9 341.3 L791.3 341.7 L792.7 342.1 L794.0 342.6 L795.4 343.0 L796.8 343.5 L798.2 344.0 L799.5 344.5 L800.9 345.0 L802.2 345.5 L803.5 346.1 L804.9 346.6 L806.2 347.2 L807.5 347.8 L808.8 348.4 L810.1 349.0 L811.4 349.7 L812.6 350.3 L813.9 351.0 L815.2 351.7 L816.4 352.4 L817.7 353.1 L818.9 353.8 L820.1 354.6 L821.4 355.3 L822.6 356.1 L823.8 356.9 L825.0 357.7 L826.1 358.5 L827.3 359.3 L828.5 360.2 L829.6 361.0 L830.8 361.9 L831.9 362.7 L833.0 363.6 L834.1 364.5 L835.2 365.5 L836.3 366.4 L837.3 367.3 L838.4 368.3 L839.4 369.3 L840.5 370.3 L841.5 371.3 L842.5 372.3 L843.5 373.3 L844.5 374.3 L845.5 375.4 L846.5 376.4 L847.5 377.5 L848.4 378.6 L849.4 379.6 L850.3 380.7 L851.3 381.9 L852.2 383.0 L853.1 384.1 L854.0 385.2 L854.9 386.4 L855.8 387.5 L856.7 388.7 L857.6 389.9 L858.5 391.0 L859.4 392.2 L860.3 393.4 L861.1 394.6 L862.0 395.8 L862.9 397.0 L863.7 398.3 L864.6 399.5 L865.5 400.7 L866.3 401.9 L867.2 403.2 L868.0 404.4 L868.8 405.7 L869.7 406.9 L870.5 408.2 L871.4 409.4 L872.2 410.7 L873.1 411.9 L873.9 413.2 L874.7 414.5 L875.6 415.7 L876.4 417.0 L877.3 418.3 L878.1 419.5 L878.9 420.8 L879.8 422.1 L880.6 423.4 L881.5 424.6 L882.3 425.9 L883.2 427.2 L884.0 428.4 L884.9 429.7 L885.8 431.0 L886.7 432.2 L887.6 433.5 L888.5 434.8 L889.4 436.0 L890.3 437.3 L891.2 438.5 L892.2 439.7 L893.2 440.9 L894.2 442.1 L895.2 443.3 L896.2 444.5 L897.2 445.7 L898.3 446.8 L899.4 448.0 L900.5 449.1 L901.6 450.2 L902.8 451.2 L904.0 452.3 L905.2 453.3 L906.4 454.3 L907.7 455.3 L909.0 456.2 L910.3 457.1 L911.7 458.0 L913.1 458.8 L914.5 459.6 L916.0 460.4 L917.5 461.1 L919.1 461.8 L920.7 462.5 L922.3 463.1 L924.0 463.7 L925.8 464.2 L927.6 464.6 L929.5 464.9 L931.5 465.1 L933.6 465.1 L935.8 464.8 L937.9 464.2 L940.1 463.3 L941.7 462.4 L943.2 461.2 L944.1 459.6 L944.6 457.8 L944.4 455.9 L943.7 454.2 L942.5 452.8 L940.9 451.8 L939.1 451.4 L937.2 451.5 L935.5 452.2 L934.6 452.9 L934.0 453.2 L933.3 453.4 L932.5 453.6 L931.6 453.7 L930.6 453.7 L929.4 453.6 L928.3 453.4 L927.0 453.1 L925.7 452.8 L924.4 452.4 L923.1 451.9 L921.9 451.4 L920.6 450.9 L919.4 450.3 L918.2 449.7 L917.1 449.0 L915.9 448.3 L914.8 447.6 L913.7 446.9 L912.6 446.1 L911.5 445.3 L910.5 444.5 L909.5 443.6 L908.4 442.7 L907.4 441.8 L906.4 440.9 L905.5 439.9 L904.5 438.9 L903.6 437.9 L902.6 436.9 L901.7 435.8 L900.8 434.7 L899.9 433.6 L899.0 432.5 L898.1 431.3 L897.2 430.2 L896.3 429.0 L895.4 427.8 L894.6 426.6 L893.7 425.4 L892.9 424.2 L892.0 423.0 L891.1 421.7 L890.3 420.5 L889.4 419.3 L888.6 418.0 L887.7 416.7 L886.9 415.5 L886.1 414.2 L885.2 413.0 L884.4 411.7 L883.5 410.4 L882.7 409.2 L881.8 407.9 L881.0 406.6 L880.1 405.4 L879.3 404.1 L878.4 402.9 L877.6 401.6 L876.7 400.3 L875.9 399.1 L875.0 397.8 L874.1 396.5 L873.3 395.3 L872.4 394.0 L871.5 392.8 L870.6 391.5 L869.7 390.3 L868.8 389.1 L867.9 387.8 L867.0 386.6 L866.1 385.4 L865.2 384.1 L864.3 382.9 L863.4 381.7 L862.4 380.5 L861.5 379.3 L860.5 378.1 L859.6 376.9 L858.6 375.7 L857.6 374.6 L856.6 373.4 L855.6 372.2 L854.6 371.1 L853.6 370.0 L852.6 368.8 L851.5 367.7 L850.5 366.6 L849.4 365.5 L848.3 364.4 L847.3 363.3 L846.2 362.2 L845.0 361.2 L843.9 360.1 L842.8 359.1 L841.6 358.0 L840.5 357.0 L839.3 356.0 L838.1 355.0 L836.9 354.1 L835.7 353.1 L834.4 352.2 L833.2 351.2 L831.9 350.3 L830.7 349.4 L829.4 348.5 L828.1 347.7 L826.8 346.8 L825.5 346.0 L824.2 345.1 L822.8 344.3 L821.5 343.5 L820.1 342.8 L818.8 342.0 L817.4 341.3 L816.0 340.6 L814.6 339.9 L813.2 339.2 L811.8 338.5 L810.4 337.8 L808.9 337.2 L807.5 336.6 L806.1 336.0 L804.6 335.4 L803.1 334.9 L801.7 334.3 L800.2 333.8 L798.7 333.3 L797.2 332.8 L795.7 332.3 L794.2 331.9 L792.7 331.4 L791.2 331.0 L789.7 330.6 L788.2 330.2 L786.7 329.8 L785.2 329.4 L783.6 329.1 L782.1 328.8 L780.6 328.4 L779.1 328.1 L777.5 327.8 L776.0 327.6 L774.5 327.3 L772.9 327.0 L771.4 326.8 L769.9 326.6 L768.3 326.3 L766.8 326.1 L765.3 325.9 L763.7 325.7 L762.2 325.6 L760.7 325.4 L759.1 325.2 L757.6 325.1 L756.1 325.0 L754.5 324.8 L753.0 324.7 L751.5 324.6 L750.0 324.5 L748.5 324.4 L746.9 324.3 L745.4 324.2 L743.9 324.2 L742.4 324.1 L740.9 324.1 L739.4 324.0 L737.8 324.0 L736.3 324.0 L734.8 324.0 L733.3 324.0 L731.8 324.0 L730.3 324.0 L728.8 324.0 L727.2 324.0 L725.7 324.1 L724.2 324.1 L722.7 324.2 L721.2 324.3 L719.7 324.3 L718.2 324.4 L716.7 324.5 L715.1 324.6 L713.6 324.8 L712.1 324.9 L710.6 325.0 L709.1 325.2 L707.6 325.3 L706.0 325.5 L704.5 325.6 L703.0 325.8 L701.5 326.0 L700.0 326.2 L698.4 326.4 L696.9 326.6 L695.4 326.8 L693.9 327.1 L692.3 327.3 L690.8 327.6 L689.3 327.8 L687.8 328.1 L686.2 328.3 L684.7 328.6 L683.1 328.9 L681.6 329.2 L680.0 329.5 L678.5 329.9 L676.9 330.2 L675.4 330.6 L673.9 331.0 L672.3 331.4 L670.8 331.8 L669.3 332.2 L667.8 332.7 L666.3 333.2 L664.8 333.7 L663.3 334.2 L661.8 334.8 L660.3 335.4 L658.8 336.0 L657.4 336.7 L656.0 337.3 L654.6 338.1 L653.2 338.8 L651.8 339.6 L650.4 340.4 L649.1 341.2 L647.7 342.1 L646.4 343.0 L645.2 344.0 L643.9 345.0 L642.7 346.0 L641.5 347.1 L640.4 348.1 L639.2 349.2 L638.1 350.4 L637.0 351.5 L636.0 352.7 L634.9 353.9 L633.9 355.1 L632.9 356.3 L631.9 357.5 L631.0 358.8 L630.0 360.1 L629.1 361.4 L628.2 362.6 L627.3 363.9 L626.4 365.3 L625.6 366.6 L624.7 367.9 L623.9 369.2 L623.1 370.6 L622.3 371.9 L621.5 373.3 L620.7 374.6 L619.9 375.9 L619.1 377.3 L618.4 378.6 L617.6 380.0 L616.9 381.3 L616.1 382.6 L615.4 384.0 L614.6 385.3 L613.9 386.7 L613.2 388.0 L612.5 389.3 L611.7 390.7 L611.0 392.0 L610.3 393.4 L609.6 394.7 L608.9 396.0 L608.2 397.4 L607.5 398.7 L606.8 400.0 L606.1 401.4 L605.5 402.7 L604.8 404.0 L604.1 405.3 L603.4 406.7 L602.7 408.0 L602.0 409.3 L601.3 410.6 L600.7 412.0 L600.0 413.3 L599.3 414.6 L598.6 415.9 L598.0 417.2 L597.3 418.5 L596.6 419.9 L595.9 421.2 L595.2 422.5 L594.6 423.8 L593.9 425.1 L593.2 426.4 L592.5 427.7 L591.8 429.0 L591.1 430.3 L590.4 431.5 L589.7 432.8 L589.0 434.1 L588.3 435.3 L587.6 436.6 L586.9 437.8 L586.2 439.0 L585.4 440.2 L584.7 441.4 L583.9 442.5 L583.1 443.6 L582.3 444.7 L581.6 445.7 L580.8 446.6 L580.0 447.4 L579.2 448.1 L578.3 448.8 L577.4 449.3 L576.6 449.8 L575.8 450.1 L575.1 450.2 L574.5 450.3 L574.0 450.2 L573.3 450.0 L572.7 449.7 L572.0 449.3 L571.4 448.6 L570.7 447.8 L570.1 446.9 L569.5 445.8 L568.9 444.7 L568.4 443.5 L567.9 442.2 L567.4 440.9 L567.0 439.5 L566.5 438.0 L566.0 436.5 L565.4 435.0 L564.8 433.4 L564.1 431.8 L563.2 430.2 L562.2 428.6 L561.1 427.0 L559.9 425.6 L558.4 424.2 L556.9 423.0 L555.3 421.9 L553.7 421.0 L552.1 420.2 L550.4 419.6 L548.9 419.0 L547.3 418.5 L545.7 418.0 L544.1 417.5 L542.5 417.1 L540.9 416.8 L539.3 416.5 L537.6 416.2 L536.0 416.0 L534.4 415.8 L532.8 415.7 L531.1 415.6 L529.5 415.6 L527.9 415.5 L526.2 415.6 L524.6 415.7 L523.0 415.8 L521.4 415.9 L519.7 416.1 L518.1 416.4 L516.5 416.7 L514.9 417.0 L513.3 417.4 L511.8 417.8 L510.2 418.2 L508.7 418.7 L507.1 419.2 L505.6 419.7 L504.1 420.3 L502.6 420.9 L501.1 421.5 L499.7 422.2 L498.2 422.9 L496.8 423.6 L495.3 424.3 L493.9 425.1 L492.5 425.9 L491.2 426.7 L489.8 427.5 L488.5 428.3 L487.1 429.2 L485.8 430.0 L484.5 430.9 L483.2 431.8 L481.9 432.7 L480.7 433.7 L479.4 434.6 L478.1 435.5 L476.9 436.5 L475.7 437.5 L474.5 438.5 L473.3 439.5 L472.1 440.5 L470.9 441.6 L469.7 442.7 L468.6 443.7 L467.5 444.8 L466.4 446.0 L465.3 447.1 L464.2 448.3 L463.1 449.5 L462.1 450.7 L461.1 451.9 L460.1 453.2 L459.2 454.5 L458.2 455.8 L457.3 457.1 L456.5 458.5 L455.6 459.8 L454.8 461.1 L454.0 462.4 L453.2 463.7 L452.4 465.0 L451.6 466.3 L450.9 467.6 L450.1 468.8 L449.3 470.1 L448.5 471.3 L447.7 472.5 L447.0 473.6 L446.2 474.8 L445.3 475.9 L444.5 476.9 L443.7 478.0 L442.8 479.0 L441.9 479.9 L441.0 480.8 L440.1 481.7 L439.1 482.6 L438.1 483.4 L437.1 484.1 L436.0 484.9 L434.9 485.5 L433.7 486.2 L432.5 486.8 L431.3 487.3 L430.1 487.8 L428.8 488.2 L427.6 488.5 L426.4 488.8 L425.2 489.0 L424.0 489.2 L422.9 489.3 L421.8 489.3 L420.7 489.3 L419.5 489.2 L418.4 489.0 L417.3 488.8 L416.2 488.5 L415.1 488.1 L413.9 487.7 L412.8 487.2 L411.7 486.7 L410.5 486.0 L409.4 485.4 L408.3 484.7 L407.1 483.9 L406.0 483.1 L404.9 482.2 L403.7 481.3 L402.6 480.4 L401.5 479.4 L400.4 478.4 L399.3 477.3 L398.3 476.3 L397.2 475.2 L396.1 474.1 L395.1 473.0 L394.0 471.9 L393.0 470.8 L392.0 469.7 L390.9 468.6 L389.9 467.4 L389.0 466.3 L388.0 465.2 L387.0 464.1 L386.0 462.9 L385.0 461.8 L384.1 460.7 L383.1 459.5 L382.2 458.4 L381.2 457.2 L380.3 456.1 L379.3 454.9 L378.4 453.8 L377.4 452.6 L376.5 451.5 L375.6 450.3 L374.7 449.2 L373.7 448.0 L372.8 446.9 L371.9 445.7 L371.0 444.6 L370.1 443.4 L369.1 442.2 L368.2 441.1 L367.3 439.9 L366.4 438.8 L365.5 437.6 L364.5 436.5 L363.6 435.3 L362.7 434.2 L361.8 433.0 L360.9 431.8 L359.9 430.7 L359.0 429.5 L358.1 428.3 L357.2 427.2 L356.3 426.0 L355.3 424.9 L354.4 423.7 L353.5 422.5 L352.6 421.4 L351.6 420.2 L350.7 419.0 L349.8 417.8 L348.8 416.7 L347.9 415.5 L347.0 414.3 L346.0 413.2 L345.1 412.0 L344.1 410.8 L343.2 409.7 L342.2 408.5 L341.3 407.4 L340.3 406.2 L339.4 405.0 L338.4 403.9 L337.4 402.7 L336.4 401.6 L335.5 400.4 L334.5 399.2 L333.5 398.1 L332.5 396.9 L331.5 395.8 L330.6 394.6 L329.6 393.5 L328.6 392.3 L327.5 391.2 L326.5 390.1 L325.5 388.9 L324.5 387.8 L323.5 386.7 L322.4 385.5 L321.4 384.4 L320.4 383.3 L319.3 382.2 L318.3 381.1 L317.2 380.0 L316.2 378.9 L315.1 377.8 L314.0 376.7 L312.9 375.6 L311.9 374.5 L310.8 373.4 L309.7 372.3 L308.6 371.2 L307.5 370.1 L306.4 369.1 L305.3 368.0 L304.1 366.9 L303.0 365.9 L301.9 364.8 L300.7 363.8 L299.6 362.7 L298.4 361.7 L297.2 360.7 L296.0 359.6 L294.9 358.6 L293.7 357.6 L292.5 356.6 L291.2 355.6 L290.0 354.6 L288.8 353.6 L287.6 352.7 L286.3 351.7 L285.1 350.8 L283.8 349.8 L282.6 348.9 L281.3 348.0 L280.0 347.1 L278.7 346.2 L277.4 345.3 L276.1 344.5 L274.8 343.6 L273.4 342.8 L272.1 342.0 L270.7 341.2 L269.4 340.4 L268.0 339.6 L266.6 338.9 L265.3 338.2 L263.9 337.4 L262.5 336.8 L261.1 336.1 L259.6 335.4 L258.2 334.8 L256.8 334.2 L255.3 333.6 L253.9 333.0 L252.4 332.5 L250.9 331.9 L249.4 331.4 L247.9 331.0 L246.5 330.5 L245.0 330.1 L243.5 329.6 L242.0 329.2 L240.4 328.9 L238.9 328.5 L237.4 328.2 L235.9 327.9 L234.4 327.6 L232.8 327.3 L231.3 327.0 L229.8 326.8 L228.2 326.5 L226.7 326.3 L225.2 326.1 L223.6 325.9 L222.1 325.8 L220.5 325.6 L219.0 325.5 L217.4 325.3 L215.9 325.2 L214.3 325.1 L212.8 325.0 L211.2 324.9 L209.7 324.8 L208.1 324.7 L206.6 324.7 L205.0 324.6 L203.5 324.6 L201.9 324.5 L200.4 324.5 L198.8 324.4 L197.3 324.4 L195.8 324.4 L194.2 324.4 L192.7 324.4 L191.1 324.4 L189.6 324.4 L188.1 324.4 L186.6 324.4 L185.0 324.4 L183.5 324.4 L182.0 324.4 L180.5 324.4 L179.0 324.4 L177.5 324.4 L176.0 324.4 L174.5 324.4 L173.0 324.5 L171.5 324.5 L170.1 324.5 L168.6 324.5 L167.1 324.5 L165.7 324.4 L164.2 324.4 L162.8 324.4 L161.3 324.4 L159.9 324.4 L158.5 324.3 L157.0 324.5 L155.6 325.2 L154.5 326.2 L153.7 327.6 L153.4 329.1 L153.6 330.6 L154.3 332.0 L155.4 333.1 L156.7 333.9Z" fill="#ff8585"/>
<g stroke="#d2d2d2" fill="none" stroke-linecap="round" stroke-linejoin="round">
<path d="M188.2 285.8 L161.3 402 M190.9 286.9 L162.5 402.6" stroke-width="4.3"/>
<path d="M161.8 402.8 L155 349.3 M161.8 402.8 L188.2 357.6" stroke-width="4.1"/>
<path d="M181.2 579.8 L154.1 522.6" stroke-width="4.3"/>
<path d="M154.1 522.6 L157.3 555 M154.1 522.6 L176.9 546" stroke-width="4.1"/>
<path d="M579.9 713.2 L545.9 788.6 M582.8 714.8 L547.3 789.4" stroke-width="4.4"/>
<path d="M546.5 789.2 L549.2 745.4 M546.5 789.2 L574.3 757" stroke-width="4.3"/>
</g>
<g stroke="#3b984c" stroke-opacity="0.5" fill="none" stroke-linecap="round" stroke-width="9" stroke-dasharray="15.4 24.7">
<path d="M155.8 423.2 L500 420"/>
<path d="M157.5 508.6 L500 509.2"/>
<path d="M517.3 457.5 L515.6 790"/>
</g>
<g stroke="#3b984c" fill="none" stroke-linecap="round" stroke-width="15.2">
<path d="M125.8 423.2 Q141 424.6 157.3 423.6"/>
<path d="M123.8 507.4 Q140 508.6 155.2 507.7"/>
<path d="M515.4 783.6 Q514.6 800 515.3 814.8" stroke-width="15.6"/>
</g>
<circle cx="516.1" cy="421.7" r="19.7" fill="#3b984c"/>
<ellipse cx="515.8000000000001" cy="421.09999999999997" rx="7.6" ry="9.2" transform="rotate(25 516.1 421.7)" fill="#121212"/>
<circle cx="516.8" cy="511.0" r="19.7" fill="#3b984c"/>
<ellipse cx="516.5" cy="510.4" rx="7.6" ry="9.2" transform="rotate(25 516.8 511.0)" fill="#121212"/>
<text transform="scale(1.15 1)" font-family="'DejaVu Sans', 'Liberation Sans', sans-serif" font-size="25" fill="#d2d2d2" stroke="#d2d2d2" stroke-width="0.7" stroke-linejoin="round" stroke-linecap="round"><tspan x="162.44" y="250.3" font-size="26">&quot;</tspan><tspan x="173.04" y="258.7" textLength="59.30" lengthAdjust="spacingAndGlyphs"><tspan font-size="28.3">S</tspan>uck</tspan> <tspan x="247.30" y="258.7" textLength="20.17" lengthAdjust="spacing">i<tspan font-size="28.3">t</tspan></tspan> <tspan x="284.00" y="258.7" textLength="27.48" lengthAdjust="spacingAndGlyphs">up</tspan><tspan x="311.23" y="250.3" font-size="26">&quot;</tspan></text>
<text transform="scale(1.15 1)" font-family="'DejaVu Sans', 'Liberation Sans', sans-serif" font-size="25" fill="#d2d2d2" stroke="#d2d2d2" stroke-width="0.7" stroke-linejoin="round" stroke-linecap="round"><tspan x="156.96" y="615.5" font-size="26">&quot;</tspan><tspan x="167.30" y="623.6" textLength="48.26" lengthAdjust="spacingAndGlyphs"><tspan font-size="28.3">W</tspan>hy</tspan> <tspan x="229.30" y="623.6" textLength="30.87" lengthAdjust="spacingAndGlyphs">do</tspan> <tspan x="274.96" y="623.6" textLength="43.22" lengthAdjust="spacingAndGlyphs">you</tspan> <tspan x="332.43" y="623.6" textLength="50.00" lengthAdjust="spacing"><tspan font-size="28.3">f</tspan>ee<tspan font-size="28.3">l</tspan></tspan> <tspan x="157.57" y="664.2" textLength="63.30" lengthAdjust="spacingAndGlyphs"><tspan font-size="28.3">t</tspan>ha<tspan font-size="28.3">t</tspan></tspan> <tspan x="236.96" y="664.2" textLength="57.13" lengthAdjust="spacingAndGlyphs">way?</tspan><tspan x="296.18" y="656.1" font-size="26">&quot;</tspan></text>
<text transform="scale(1.15 1)" font-family="'DejaVu Sans', 'Liberation Sans', sans-serif" font-size="25" fill="#d2d2d2" stroke="#d2d2d2" stroke-width="0.7" stroke-linejoin="round" stroke-linecap="round"><tspan x="525.23" y="697.3" font-size="26">&quot;</tspan><tspan x="535.83" y="705.2" textLength="13.74" lengthAdjust="spacingAndGlyphs"><tspan font-size="28.3" font-family="'DejaVu Sans Mono', 'Liberation Mono', monospace">I</tspan></tspan> <tspan x="565.13" y="705.2" textLength="57.83" lengthAdjust="spacingAndGlyphs">don<tspan font-size="28.3">t</tspan></tspan> <tspan x="639.04" y="705.2" textLength="62.17" lengthAdjust="spacingAndGlyphs">wan<tspan font-size="28.3">t</tspan></tspan> <tspan x="716.78" y="705.2" textLength="30.78" lengthAdjust="spacingAndGlyphs"><tspan font-size="28.3">t</tspan>o</tspan> <tspan x="762.26" y="705.2" textLength="29.30" lengthAdjust="spacingAndGlyphs">do</tspan> <tspan x="809.13" y="705.2" textLength="93.83" lengthAdjust="spacingAndGlyphs"><tspan font-size="28.3">l</tspan>aundry</tspan><tspan x="902.01" y="697.3" font-size="26">&quot;</tspan></text>
<text transform="scale(1.15 1)" font-family="'DejaVu Sans', 'Liberation Sans', sans-serif" font-size="25" fill="#ff8585" stroke="#ff8585" stroke-width="0.7" stroke-linejoin="round" stroke-linecap="round"><tspan x="842.87" y="457.6" textLength="57.91" lengthAdjust="spacingAndGlyphs"><tspan font-size="28.3">Y</tspan>our</tspan> <tspan x="913.83" y="457.6" textLength="75.30" lengthAdjust="spacing"><tspan font-size="28.3">f</tspan>riend</tspan></text>
<text transform="scale(1.15 1)" font-family="'DejaVu Sans', 'Liberation Sans', sans-serif" font-size="25" fill="#3ca0b1" stroke="#3ca0b1" stroke-width="0.7" stroke-linejoin="round" stroke-linecap="round"><tspan x="846.70" y="547.8" textLength="44.61" lengthAdjust="spacingAndGlyphs"><tspan font-size="28.3">Y</tspan>ou</tspan></text>
<text transform="scale(1.12 1)" font-family="'DejaVu Sans', 'Liberation Sans', sans-serif" font-size="39" fill="#d2d2d2" stroke="#d2d2d2" stroke-width="2.0" stroke-linejoin="round" stroke-linecap="round"><tspan x="306.29 333.29 356.23 383.91 413.22" y="893"><tspan font-size="46" font-family="'DejaVu Sans Mono', 'Liberation Mono', monospace">I</tspan>npu<tspan font-size="46">t</tspan></tspan> <tspan x="464.14 494.05 522.74 552.85 579.84" y="893"><tspan font-size="46">S</tspan>pace</tspan></text>
<text transform="translate(40.5 0) rotate(90) scale(1.12 1)" font-family="'DejaVu Sans', 'Liberation Sans', sans-serif" font-size="39" fill="#d2d2d2" stroke="#d2d2d2" stroke-width="2.0" stroke-linejoin="round" stroke-linecap="round"><tspan x="182.21 221.28 249.60 275.83 300.92 331.03" y="0.5"><tspan font-size="46">O</tspan>u<tspan font-size="46">t</tspan>pu<tspan font-size="46">t</tspan></tspan> <tspan x="384.32 410.16 439.75 468.65 494.44" y="0.5">space</tspan></text>
</svg>
</body></html>
